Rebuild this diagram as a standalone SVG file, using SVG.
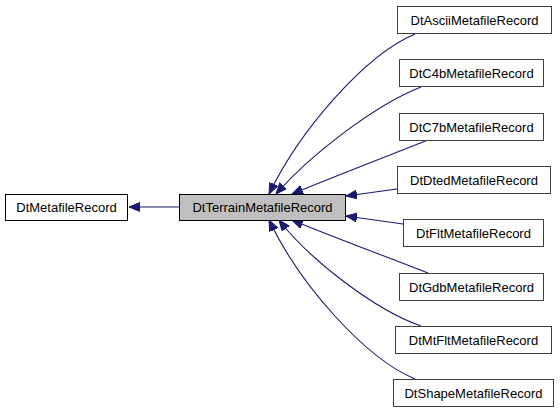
<svg xmlns="http://www.w3.org/2000/svg" width="560" height="413" viewBox="0 0 560 413">
<style>
.box{fill:#ffffff;stroke:#000000;stroke-width:1}
.rbox{fill:#ffffff;stroke:#404040;stroke-width:1}
.main{fill:#bfbfbf;stroke:#000000;stroke-width:1}
.lbl{font-family:"Liberation Sans",Arial,sans-serif;font-size:13px;fill:#000000;text-anchor:middle}
.edge{fill:none;stroke:#191970;stroke-width:1.1;marker-end:url(#ah)}
</style>
<defs>
<marker id="ah" markerUnits="userSpaceOnUse" markerWidth="13" markerHeight="11" refX="11" refY="4.5" orient="auto">
<path d="M0,0 L11,4.5 L0,9 z" fill="#191970" stroke="#191970" stroke-width="1"/>
</marker>
</defs>
<rect width="560" height="413" fill="#ffffff"/>
<g id="edges">
<path class="edge" d="M179,207 L129,207"/>
<path class="edge" d="M415,34 C365,55 300,130 269,194"/>
<path class="edge" d="M421,87 C375,105 310,155 276,194"/>
<path class="edge" d="M428,140 C390,155 330,178 292,194"/>
<path class="edge" d="M397,189 L346,196"/>
<path class="edge" d="M403,224 L346,216"/>
<path class="edge" d="M428,273 C390,258 330,236 292,220"/>
<path class="edge" d="M421,326 C375,310 310,260 279,220"/>
<path class="edge" d="M415,379 C365,358 300,285 269,220"/>
</g>
<g id="node_DtMetafileRecord">
<rect class="box" x="5.5" y="194.5" width="122" height="26"/>
<text class="lbl" x="66.5" y="212">DtMetafileRecord</text>
</g>
<g id="node_DtTerrainMetafileRecord">
<rect class="main" x="179.5" y="194.5" width="166" height="26"/>
<text class="lbl" x="262.5" y="212">DtTerrainMetafileRecord</text>
</g>
<g id="node_DtAsciiMetafileRecord">
<rect class="rbox" x="397.5" y="6.5" width="154" height="27"/>
<text class="lbl" x="474.5" y="24.5">DtAsciiMetafileRecord</text>
</g>
<g id="node_DtC4bMetafileRecord">
<rect class="rbox" x="399.5" y="59.5" width="144" height="27"/>
<text class="lbl" x="471.5" y="77.5">DtC4bMetafileRecord</text>
</g>
<g id="node_DtC7bMetafileRecord">
<rect class="rbox" x="399.5" y="113.5" width="144" height="27"/>
<text class="lbl" x="471.5" y="131.5">DtC7bMetafileRecord</text>
</g>
<g id="node_DtDtedMetafileRecord">
<rect class="rbox" x="397.5" y="166.5" width="153" height="27"/>
<text class="lbl" x="474" y="184.5">DtDtedMetafileRecord</text>
</g>
<g id="node_DtFltMetafileRecord">
<rect class="rbox" x="403.5" y="219.5" width="140" height="27"/>
<text class="lbl" x="473.5" y="237.5">DtFltMetafileRecord</text>
</g>
<g id="node_DtGdbMetafileRecord">
<rect class="rbox" x="399.5" y="273.5" width="144" height="27"/>
<text class="lbl" x="471.5" y="291.5">DtGdbMetafileRecord</text>
</g>
<g id="node_DtMtFltMetafileRecord">
<rect class="rbox" x="395.5" y="326.5" width="156" height="27"/>
<text class="lbl" x="473.5" y="344.5">DtMtFltMetafileRecord</text>
</g>
<g id="node_DtShapeMetafileRecord">
<rect class="rbox" x="393.5" y="379.5" width="160" height="27"/>
<text class="lbl" x="473.5" y="397.5">DtShapeMetafileRecord</text>
</g>
</svg>
